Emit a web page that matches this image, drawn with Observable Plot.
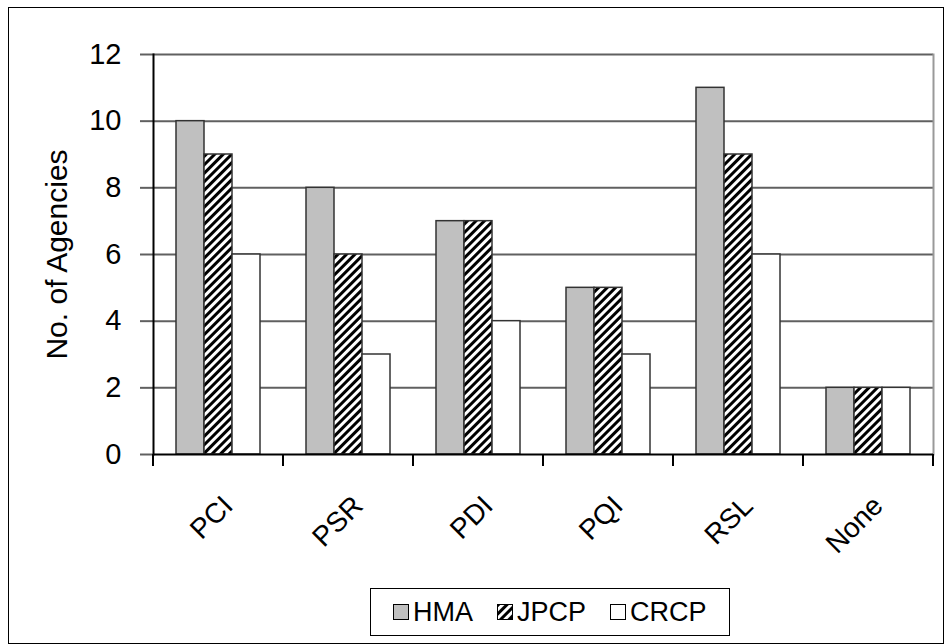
<!DOCTYPE html>
<html>
<head>
<meta charset="utf-8">
<script src="https://cdn.jsdelivr.net/npm/d3@7"></script>
<script src="https://cdn.jsdelivr.net/npm/@observablehq/plot@0.6"></script>
<style>
  html, body { margin: 0; padding: 0; background: #fff; }
  #wrap { position: relative; width: 944px; height: 644px; overflow: hidden;
          font-family: "Liberation Sans", Arial, sans-serif; }
  #border { position: absolute; left: 8px; top: 7px; right: 0; bottom: 0;
            border: 1px solid #000; box-sizing: border-box; }
  #chart { position: absolute; left: 0; top: 0; }
  #legend { position: absolute; left: 370px; top: 588px; height: 48px; box-sizing: border-box;
            border: 1px solid #000; display: flex; align-items: center; padding: 0 22px;
            font-size: 27px; color: #000; background: #fff; }
  #legend .item { display: flex; align-items: center; margin-right: 24px; }
  #legend .item:last-child { margin-right: 0; }
  #legend svg { margin-right: 4px; }
</style>
</head>
<body>
<div id="wrap">
  <div id="border"></div>
  <div id="chart"></div>
  <div id="legend"></div>
</div>
<script>
// Performance indices used by agencies, by pavement type
const categories = ["PCI", "PSR", "PDI", "PQI", "RSL", "None"];
const series = ["HMA", "JPCP", "CRCP"];
const hma  = [10, 8, 7, 5, 11, 2];
const jpcp = [9, 6, 7, 5, 9, 2];
const crcp = [6, 3, 4, 3, 6, 2];
const yTicks = [0, 2, 4, 6, 8, 10, 12];
const yTitle = "No. of Agencies";

const fills = ["#c0c0c0", "url(#hatch)", "#ffffff"];
const values = [hma, jpcp, crcp];

const data = categories.flatMap((c, i) =>
  series.map((s, j) => ({category: c, series: s, value: values[j][i]}))
);

const font = "'Liberation Sans', Arial, sans-serif";

// short ticks below the category axis, at each group boundary
const groupTicks = (index, scales, channels, dims) => {
  const y0 = scales.y(0);
  const g = d3.create("svg:g").attr("stroke", "#000").attr("stroke-width", 2);
  for (const x of [dims.marginLeft, dims.width - dims.marginRight]) {
    g.append("line").attr("x1", x).attr("x2", x).attr("y1", y0).attr("y2", y0 + 12);
  }
  return g.node();
};

const chart = Plot.plot({
  width: 944,
  height: 590,
  marginLeft: 151,
  marginRight: 9,
  marginTop: 54,
  marginBottom: 136,
  style: {fontFamily: font, fontSize: "28px", background: "transparent", color: "#000", overflow: "visible"},
  fx: {domain: categories, padding: 0, axis: null},
  x: {domain: series, paddingInner: 0, paddingOuter: 0.75, axis: null},
  y: {domain: [0, 12]},
  color: {domain: series, range: fills},
  marks: [
    Plot.ruleY(yTicks.filter(d => d > 0), {stroke: "#606060", strokeWidth: 2}),
    Plot.frame({anchor: "right", facetAnchor: "right", stroke: "#999", strokeWidth: 2}),
    Plot.axisY({ticks: yTicks, tickSize: 13, tickPadding: 19, label: null, stroke: "#606060",
                strokeWidth: 2, fontSize: 29, tickFormat: d => String(d)}),
    Plot.barY(data, {fx: "category", x: "series", y: "value", fill: "series",
                     stroke: "#333", strokeWidth: 1.5}),
    Plot.ruleY([0], {stroke: "#000", strokeWidth: 2}),
    Plot.frame({anchor: "left", facetAnchor: "left", stroke: "#000", strokeWidth: 2}),
    groupTicks,
    Plot.text(categories, {fx: d => d, text: d => d, frameAnchor: "bottom", rotate: -45,
                           textAnchor: "end", dx: 16, dy: 53, fontSize: 28}),
    Plot.text([yTitle], {fx: () => categories[0], text: d => d, frameAnchor: "left",
                         textAnchor: "middle", rotate: -90, dx: -96, dy: 0, fontSize: 30})
  ]
});

// diagonal hatch used by the JPCP bars
const defs = d3.create("svg:defs");
const pat = defs.append("pattern").attr("id", "hatch").attr("patternUnits", "userSpaceOnUse")
  .attr("width", 6).attr("height", 6).attr("patternTransform", "rotate(45)");
pat.append("rect").attr("width", 6).attr("height", 6).attr("fill", "#fff");
pat.append("rect").attr("width", 3).attr("height", 6).attr("fill", "#000");
chart.insertBefore(defs.node(), chart.firstChild);

document.getElementById("chart").appendChild(chart);

// legend
const legend = d3.select("#legend");
series.forEach((s, j) => {
  const item = legend.append("div").attr("class", "item");
  const sw = item.append("svg").attr("width", 16).attr("height", 16);
  const sdefs = sw.append("defs");
  const sp = sdefs.append("pattern").attr("id", "hatchLegend" + j).attr("patternUnits", "userSpaceOnUse")
    .attr("width", 6).attr("height", 6).attr("patternTransform", "rotate(45)");
  sp.append("rect").attr("width", 6).attr("height", 6).attr("fill", "#fff");
  sp.append("rect").attr("width", 3).attr("height", 6).attr("fill", "#000");
  sw.append("rect").attr("x", 0.5).attr("y", 0.5).attr("width", 15).attr("height", 15)
    .attr("fill", fills[j].startsWith("url") ? `url(#hatchLegend${j})` : fills[j])
    .attr("stroke", "#000").attr("stroke-width", 1);
  item.append("span").text(s);
});
</script>
</body>
</html>
